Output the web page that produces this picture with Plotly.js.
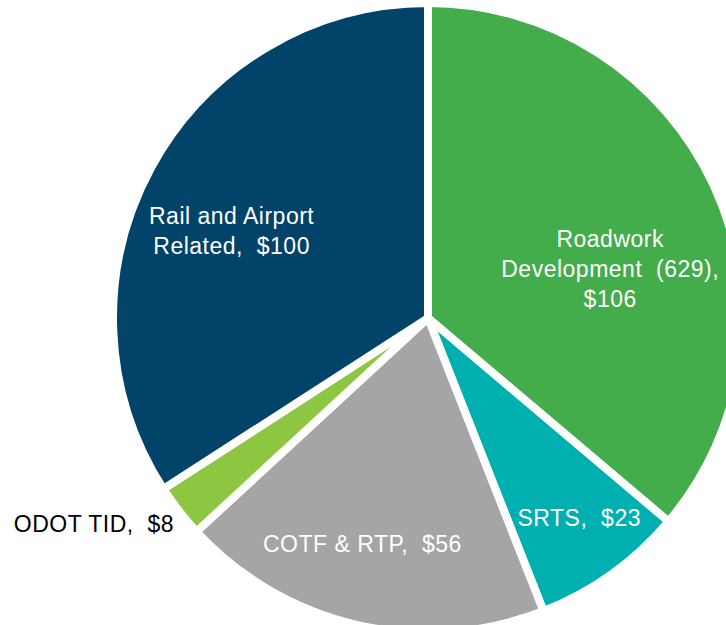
<!DOCTYPE html>
<html>
<head>
<meta charset="utf-8">
<script src="https://cdn.plot.ly/plotly-3.0.1.min.js"></script>
<style>
  html, body { margin: 0; padding: 0; overflow: hidden; background: #ffffff; width: 726px; height: 625px; }
  #chart { width: 760px; height: 640px; }
  #chart .annotation-text { letter-spacing: 0.5px; }
</style>
</head>
<body>
<div id="chart"></div>
<script>
const categories = ["Roadwork Development (629)", "SRTS", "COTF & RTP", "ODOT TID", "Rail and Airport Related"];
const displayNames = ["Roadwork<br>Development  (629),<br>", "SRTS,  ", "COTF & RTP,  ", "ODOT TID,  ", "Rail and Airport<br>Related,  "];
const values = [106, 23, 56, 8, 100];
const colors = ["#43AC4B", "#00B0B0", "#A5A5A5", "#8DC641", "#02436A"];
const textColors = ["#ffffff", "#ffffff", "#ffffff", "#000000", "#ffffff"];

const texts = displayNames.map((n, i) => n + "$" + values[i]);

// layout geometry (pixels within the plot area)
const W = 760, H = 640;
const cx = 428, cy = 318, r = 315;
// label centre positions in pixels (layout, not data)
const labelPx = [[610, 269], [579, 518], [362, 544], [94, 524], [232, 231]];

const trace = {
  type: "pie",
  labels: categories,
  values: values,
  text: texts,
  textinfo: "none",
  hoverinfo: "label+value",
  sort: false,
  direction: "clockwise",
  rotation: 0,
  marker: { colors: colors, line: { color: "#ffffff", width: 8 } },
  domain: { x: [(cx - r) / W, (cx + r) / W], y: [(H - cy - r) / H, (H - cy + r) / H] },
  showlegend: false
};

const annotations = texts.map((t, i) => ({
  text: t,
  xref: "paper", yref: "paper",
  x: labelPx[i][0] / W,
  y: 1 - labelPx[i][1] / H,
  xanchor: "center", yanchor: "middle",
  align: "center",
  showarrow: false,
  font: { family: "Liberation Sans, Arial, sans-serif", size: 23, color: textColors[i] }
}));

const layout = {
  width: W, height: H,
  margin: { l: 0, r: 0, t: 0, b: 0 },
  paper_bgcolor: "#ffffff",
  showlegend: false,
  annotations: annotations
};

Plotly.newPlot("chart", [trace], layout, { displayModeBar: false, staticPlot: true });
</script>
</body>
</html>
